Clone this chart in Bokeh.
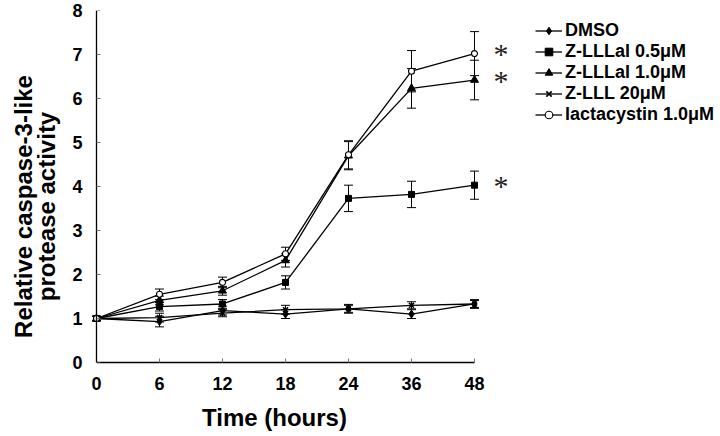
from bokeh.plotting import figure
from bokeh.models import (ColumnDataSource, Whisker, TeeHead, FixedTicker,
                          Legend, LegendItem, Range1d, LinearAxis)
from bokeh.embed import file_html
from bokeh.resources import INLINE

# ---- data ----
hours = ["0", "6", "12", "18", "24", "36", "48"]
y_ticks = [0, 1, 2, 3, 4, 5, 6, 7, 8]

dmso = [1.0, 0.93, 1.18, 1.10, 1.22, 1.10, 1.33]
dmso_err = [0.05, 0.12, 0.10, 0.10, 0.10, 0.10, 0.10]

zlllal05 = [1.0, 1.27, 1.33, 1.82, 3.73, 3.82, 4.03]
zlllal05_err = [0.05, 0.10, 0.10, 0.15, 0.30, 0.30, 0.32]

zlllal10 = [1.0, 1.41, 1.63, 2.32, 4.70, 6.23, 6.42]
zlllal10_err = [0.05, 0.10, 0.10, 0.15, 0.32, 0.45, 0.45]

zlll20 = [1.0, 1.02, 1.12, 1.20, 1.22, 1.30, 1.33]
zlll20_err = [0.05, 0.10, 0.08, 0.10, 0.08, 0.08, 0.08]

lacta = [1.0, 1.55, 1.82, 2.47, 4.72, 6.62, 7.02]
lacta_err = [0.05, 0.12, 0.12, 0.15, 0.32, 0.47, 0.50]

labels = ["DMSO", "Z-LLLal 0.5\u03bcM", "Z-LLLal 1.0\u03bcM",
          "Z-LLL 20\u03bcM", "lactacystin 1.0\u03bcM"]
markers = ["diamond", "square", "triangle", "x", "circle"]
significant = [False, True, True, False, True]

NB = "\u00a0"
y_title = "Relative caspase-3-like" + NB * 6 + "\nprotease activity" + NB * 6
x_title = "Time (hours)" + NB * 39

series = [(dmso, dmso_err), (zlllal05, zlllal05_err), (zlllal10, zlllal10_err),
          (zlll20, zlll20_err), (lacta, lacta_err)]

FONT = "Liberation Sans"

p = figure(width=720, height=436, output_backend="svg", toolbar_location=None,
           x_range=Range1d(-0.127, 9.905), y_range=Range1d(0, 8),
           y_axis_location=None,
           min_border_left=88, min_border_right=0, min_border_top=10,
           min_border_bottom=74)
p.outline_line_color = None
p.grid.visible = False
p.background_fill_color = "white"
p.border_fill_color = "white"

xs = list(range(len(hours)))

items = []
sig_vals = []
for (vals, errs), lab, mk, sig in zip(series, labels, markers, significant):
    src = ColumnDataSource(dict(
        x=xs, y=vals,
        lo=[v - e for v, e in zip(vals, errs)],
        hi=[v + e for v, e in zip(vals, errs)]))
    w = Whisker(source=src, base="x", lower="lo", upper="hi",
                line_color="black", line_width=1,
                upper_head=TeeHead(size=9, line_color="black", line_width=1),
                lower_head=TeeHead(size=9, line_color="black", line_width=1))
    p.add_layout(w)
    ln = p.line("x", "y", source=src, line_color="black", line_width=1.3)
    if mk == "circle":
        sc = p.scatter("x", "y", source=src, marker=mk, size=6,
                       fill_color="white", line_color="black", line_width=1.1)
    elif mk == "x":
        sc = p.scatter("x", "y", source=src, marker=mk, size=7,
                       line_color="black", line_width=1.6)
    elif mk == "diamond":
        sc = p.scatter("x", "y", source=src, marker=mk, size=8,
                       fill_color="black", line_color="black")
    elif mk == "triangle":
        sc = p.scatter("x", "y", source=src, marker=mk, size=8,
                       fill_color="black", line_color="black")
    else:
        sc = p.scatter("x", "y", source=src, marker=mk, size=6,
                       fill_color="black", line_color="black")
    items.append(LegendItem(label=lab, renderers=[ln, sc]))
    if sig:
        sig_vals.append(vals[-1])

# x axis
p.xaxis.ticker = FixedTicker(ticks=xs)
p.xaxis.major_label_overrides = {i: h for i, h in zip(xs, hours)}
p.xaxis.bounds = (0, len(hours) - 1)
p.xaxis.axis_label = x_title
p.xaxis.major_label_standoff = 14
p.xaxis.axis_label_standoff = 11

# y axis line + ticks, drawn at x = 0 (inside the frame)
yline = LinearAxis(ticker=FixedTicker(ticks=y_ticks), bounds=(0, 8),
                   fixed_location=0, major_label_text_font_size="0px",
                   major_label_text_alpha=0)
p.add_layout(yline, "left")
# y tick labels in the left panel
ylab = LinearAxis(ticker=FixedTicker(ticks=y_ticks),
                  axis_line_color=None, major_tick_line_color=None,
                  major_label_standoff=6)
p.add_layout(ylab, "left")
# y title (its own axis, no line / ticks / labels)
ytit = LinearAxis(ticker=FixedTicker(ticks=[]),
                  axis_line_color=None, major_tick_line_color=None,
                  major_label_text_font_size="0px", major_label_standoff=0,
                  axis_label=y_title, axis_label_standoff=10)
p.add_layout(ytit, "left")

# significance asterisks next to the 48 h values (axis fixed at the last time)
star = LinearAxis(ticker=FixedTicker(ticks=sig_vals), fixed_location=xs[-1],
                  major_label_overrides={v: "*" for v in sig_vals},
                  axis_line_color=None, major_tick_line_color=None,
                  minor_tick_line_color=None, major_tick_in=0, major_tick_out=0,
                  major_label_standoff=19,
                  major_label_text_font="Liberation Serif",
                  major_label_text_font_size="30px",
                  major_label_text_color="#222222")
p.add_layout(star, "right")

for ax in (p.xaxis[0], yline):
    ax.axis_line_color = "black"
    ax.axis_line_width = 1.3
    ax.major_tick_in = 4
    ax.major_tick_out = 0
    ax.major_tick_line_color = "#777777"
    ax.minor_tick_line_color = None

for ax in (ylab, ytit):
    ax.minor_tick_line_color = None
    ax.major_tick_out = 0
    ax.major_tick_in = 0

for ax in (p.xaxis[0], ylab, ytit):
    ax.major_label_text_font = FONT
    ax.major_label_text_font_style = "bold"
    ax.major_label_text_color = "black"
    ax.axis_label_text_font = FONT
    ax.axis_label_text_font_style = "bold"
    ax.axis_label_text_font_size = "24px"
    ax.axis_label_text_color = "black"
p.xaxis.major_label_text_font_size = "18px"
ylab.major_label_text_font_size = "18px"
ytit.axis_label_text_line_height = 0.82

legend = Legend(items=items, location=(447, 237))
legend.border_line_color = None
legend.background_fill_alpha = 0
legend.padding = 0
legend.margin = 0
try:
    legend.spacing = -1
except Exception:
    legend.spacing = 0
legend.label_height = 19
legend.glyph_height = 19
legend.glyph_width = 27
legend.label_standoff = 3
legend.label_text_font = FONT
legend.label_text_font_style = "bold"
legend.label_text_font_size = "18px"
legend.label_text_line_height = 1.0
legend.label_text_color = "black"
p.add_layout(legend)

open("out.html", "w").write(file_html(p, INLINE))
